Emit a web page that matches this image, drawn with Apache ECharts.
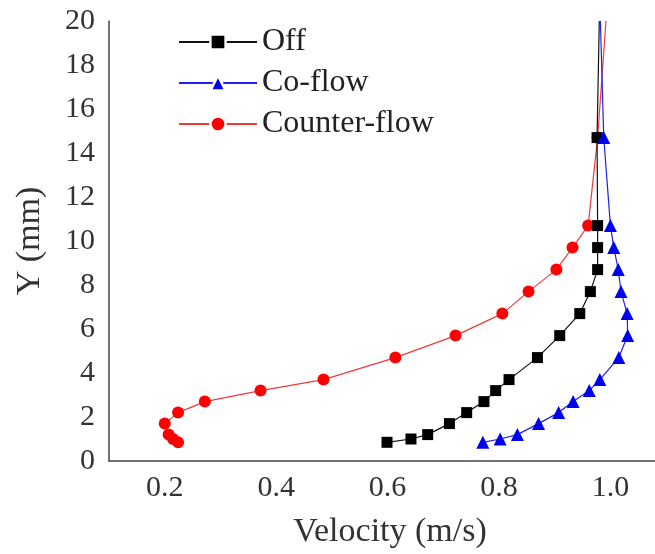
<!DOCTYPE html>
<html>
<head>
<meta charset="utf-8">
<script src="https://cdn.jsdelivr.net/npm/echarts@6/dist/echarts.min.js"></script>
<style>
html,body{margin:0;padding:0;background:#fff;}
#chart{width:655px;height:554px;}
</style>
</head>
<body>
<div id="chart"></div>
<script>
// Measurement heights (mm); the last level marks the line running to the top edge (no marker)
const yPositions = [0.85, 1.0, 1.2, 1.7, 2.2, 2.7, 3.2, 3.7, 4.7, 5.7, 6.7, 7.7, 8.7, 9.7, 10.7, 14.7, 20];
const offVelocity = [0.599, 0.642, 0.672, 0.711, 0.742, 0.773, 0.794, 0.818, 0.869, 0.909, 0.945, 0.964, 0.977, 0.977, 0.977, 0.976, 0.980];
const coFlowVelocity = [0.771, 0.802, 0.833, 0.871, 0.907, 0.933, 0.962, 0.981, 1.015, 1.031, 1.030, 1.019, 1.014, 1.006, 1.000, 0.988, 0.982];
const counterFlowVelocity = [0.224, 0.215, 0.207, 0.200, 0.224, 0.272, 0.372, 0.485, 0.614, 0.722, 0.806, 0.853, 0.903, 0.932, 0.960, 0.977, 0.992];
const seriesNames = ['Off', 'Co-flow', 'Counter-flow'];
const xTickValues = [0.2, 0.4, 0.6, 0.8, 1.0];

const FONT = 'Liberation Serif';

function buildData(xs) {
  return xs.map(function (v, i) {
    const item = { value: [v, yPositions[i]] };
    if (i === xs.length - 1) item.symbol = 'none';
    return item;
  });
}

const chart = echarts.init(document.getElementById('chart'), null, { renderer: 'canvas' });

const option = {
  animation: false,
  backgroundColor: '#ffffff',
  grid: { left: 109, right: 0, top: 21, bottom: 93, containLabel: false },
  legend: {
    orient: 'vertical',
    left: 173,
    top: 21,
    itemWidth: 78,
    itemHeight: 19,
    itemGap: 9,
    textStyle: { fontFamily: FONT, fontSize: 32, color: '#222', lineHeight: 32 },
    itemStyle: { borderColor: '#fff', borderWidth: 2.5 },
    data: seriesNames
  },
  xAxis: {
    type: 'value',
    min: 0.1,
    max: 1.08,
    name: 'Velocity (m/s)',
    nameLocation: 'middle',
    nameGap: 54,
    nameTextStyle: { fontFamily: FONT, fontSize: 34, color: '#333', padding: [0, 0, 0, 16] },
    axisLine: { show: true, onZero: false, lineStyle: { color: '#444', width: 1.5 } },
    axisTick: { show: false },
    splitLine: { show: false },
    axisLabel: {
      customValues: xTickValues,
      formatter: function (v) { return v.toFixed(1); },
      fontFamily: FONT, fontSize: 30, color: '#333', margin: 12
    }
  },
  yAxis: {
    type: 'value',
    min: 0,
    max: 20,
    interval: 2,
    name: 'Y (mm)',
    nameLocation: 'middle',
    nameGap: 62,
    nameRotate: 90,
    nameTextStyle: { fontFamily: FONT, fontSize: 34, color: '#333' },
    axisLine: { show: true, onZero: false, lineStyle: { color: '#444', width: 1.5 } },
    axisTick: { show: false },
    splitLine: { show: false },
    axisLabel: { fontFamily: FONT, fontSize: 30, color: '#333', margin: 14 }
  },
  series: [
    {
      name: seriesNames[0], type: 'line', data: buildData(offVelocity),
      symbol: 'rect', symbolSize: 11, showAllSymbol: true,
      lineStyle: { color: '#111', width: 1.2 },
      itemStyle: { color: '#000' }, z: 3
    },
    {
      name: seriesNames[1], type: 'line', data: buildData(coFlowVelocity),
      symbol: 'triangle', symbolSize: 13, showAllSymbol: true,
      lineStyle: { color: '#2020ee', width: 1.2 },
      itemStyle: { color: '#0000f0' }, z: 4
    },
    {
      name: seriesNames[2], type: 'line', data: buildData(counterFlowVelocity),
      symbol: 'circle', symbolSize: 12, showAllSymbol: true,
      lineStyle: { color: '#f03a3a', width: 1.2 },
      itemStyle: { color: '#ff0000' }, z: 2
    }
  ]
};

chart.setOption(option);
</script>
</body>
</html>
